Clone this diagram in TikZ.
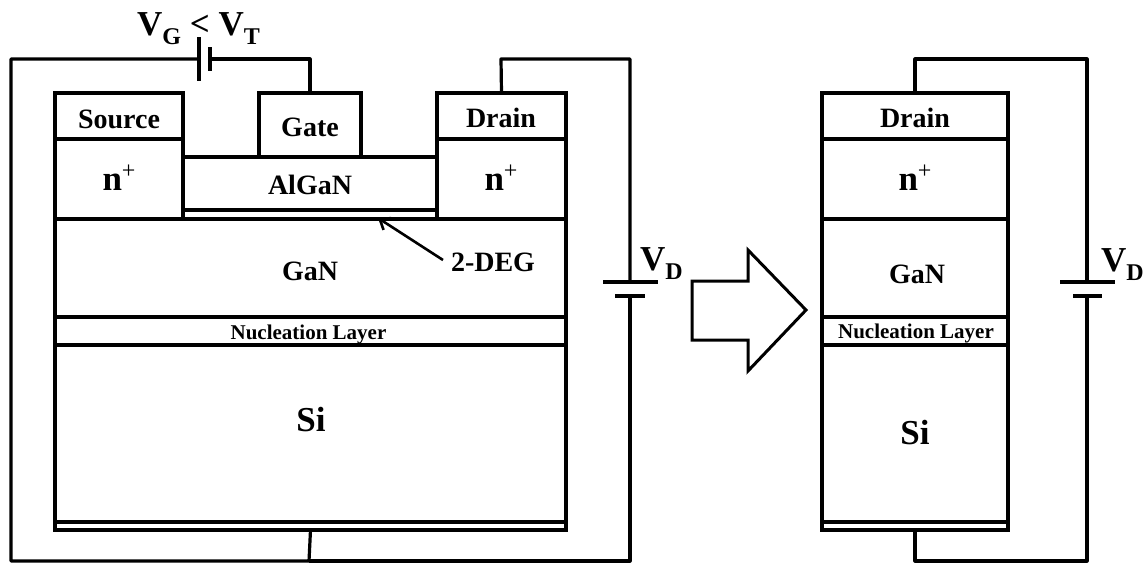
\documentclass[tikz,border=0pt]{standalone}
\usepackage{fontspec}
\setmainfont{Liberation Serif}
\usetikzlibrary{arrows.meta, positioning}
\newcommand{\subtxt}[1]{\raisebox{-.27em}{\fontsize{24pt}{24pt}\selectfont #1}}
\newcommand{\nplus}{n\raisebox{.33em}{\fontsize{24pt}{24pt}\mdseries\selectfont +}}
\begin{document}
\begin{tikzpicture}[
        x=1pt, y=-1pt,
        box/.style={draw, line width=3.4pt, inner sep=0pt, outer sep=0pt,
                     align=center, font=\fontsize{28pt}{28pt}\bfseries\selectfont},
        lab/.style={inner sep=0pt, anchor=base, font=\fontsize{28pt}{28pt}\bfseries\selectfont},
        big/.style={font=\fontsize{35pt}{35pt}\bfseries\selectfont},
        small/.style={font=\fontsize{21pt}{21pt}\bfseries\selectfont},
        wire/.style={line width=3.2pt, line join=round},
        plate/.style={line width=3.4pt}
      ]
      \useasboundingbox (0,0) rectangle (1145,563);

      % left device
      \node[box, minimum width=128pt, minimum height=46pt] (source) at (119,116) {};
      \node[box, minimum width=128pt, minimum height=80pt] (nsource) at (119,179) {};
      \node[box, minimum width=102pt, minimum height=64pt] (gate) at (310,125) {};
      \node[box, minimum width=254pt, minimum height=53pt] (algan) at (310,183.5) {};
      \node[box, minimum width=254pt, minimum height=9pt] (deg) at (310,214.5) {};
      \node[box, minimum width=129pt, minimum height=46pt] (drain) at (501.5,116) {};
      \node[box, minimum width=129pt, minimum height=80pt] (ndrain) at (501.5,179) {};
      \node[box, minimum width=511pt, minimum height=98pt] (gan) at (310.5,268) {};
      \node[box, minimum width=511pt, minimum height=28pt] (nuc) at (310.5,331) {};
      \node[box, minimum width=511pt, minimum height=177pt] (si) at (310.5,433.5) {};
      \node[box, minimum width=511pt, minimum height=8pt] (back) at (310.5,526) {};

      % right device
      \node[box, minimum width=186pt, minimum height=46pt] (drainr) at (915,116) {};
      \node[box, minimum width=186pt, minimum height=80pt] (nr) at (915,179) {};
      \node[box, minimum width=186pt, minimum height=98pt] (ganr) at (915,268) {};
      \node[box, minimum width=186pt, minimum height=28pt] (nucr) at (915,331) {};
      \node[box, minimum width=186pt, minimum height=177pt] (sir) at (915,433.5) {};
      \node[box, minimum width=186pt, minimum height=8pt] (backr) at (915,526) {};

      % labels
      \node[lab] (sourcetxt) at (119,128) {Source};
      \node[lab] (gatetxt) at (310,136) {Gate};
      \node[lab] (draintxt) at (501,127) {Drain};
      \node[lab] (algantxt) at (310,194) {AlGaN};
      \node[lab, big] (nsourcetxt) at (119,190) {\nplus};
      \node[lab, big] (ndraintxt) at (501,190) {\nplus};
      \node[lab] (gantxt) at (310,280) {GaN};
      \node[lab, small] (nuctxt) at (308.5,339) {Nucleation Layer};
      \node[lab, big] (sitxt) at (311,431) {Si};
      \node[lab] (drainrtxt) at (915,127) {Drain};
      \node[lab, big] (nrtxt) at (915,190) {\nplus};
      \node[lab] (ganrtxt) at (917,283) {GaN};
      \node[lab, small] (nucrtxt) at (916,338) {Nucleation Layer};
      \node[lab, big] (sirtxt) at (915,444) {Si};
      \node[lab, big] (vgt) at (198.5,35) {V\subtxt{G} < V\subtxt{T}};
      \node[lab, big, anchor=base west] (vd) at (640,270) {V\subtxt{D}};
      \node[lab, big, anchor=base west] (vdr) at (1101,271) {V\subtxt{D}};
      \node[lab] (deglabel) at (493,271) {2-DEG};

      % batteries
      \coordinate (gpos) at (199,59);
      \coordinate (gneg) at (210,59);
      \coordinate (dpos) at (630,282);
      \coordinate (dneg) at (630,296);
      \coordinate (rpos) at (1087,282);
      \coordinate (rneg) at (1087,296);
      \draw[plate] (199,37) -- (199,81);
      \draw[plate] (210,47) -- (210,71);
      \draw[plate] (603,282) -- (658,282);
      \draw[plate] (615,296) -- (645,296);
      \draw[plate] (1060,282) -- (1115,282);
      \draw[plate] (1073,296) -- (1102,296);

      % wires
      \coordinate (botl) at (309,561);
      \coordinate (topd) at (501,59);
      \coordinate (botr) at (915,561);
      \coordinate (topr) at (915,59);
      \draw[wire] (gpos) -- (11,59) |- (botl) -- (back.south);
      \draw[wire] (botl) -| (dneg);
      \draw[wire] (gneg) -| (gate.north);
      \draw[wire] (drain.north) -- (topd) -| (dpos);
      \draw[wire] (backr.south) -- (botr) -| (rneg);
      \draw[wire] (drainr.north) -- (topr) -| (rpos);

      % pointer and block arrow
      \coordinate (degtip) at (378,218);
      \draw[-{Straight Barb[length=9pt,width=14pt]}, line width=2.6pt] (443,260) -- (degtip);
      \draw[line width=3pt, line join=miter] (692,281) -- (748,281) -- (748,250) -- (806,310)
        -- (748,371) -- (748,340) -- (692,340) -- cycle;
    \end{tikzpicture}
\end{document}
